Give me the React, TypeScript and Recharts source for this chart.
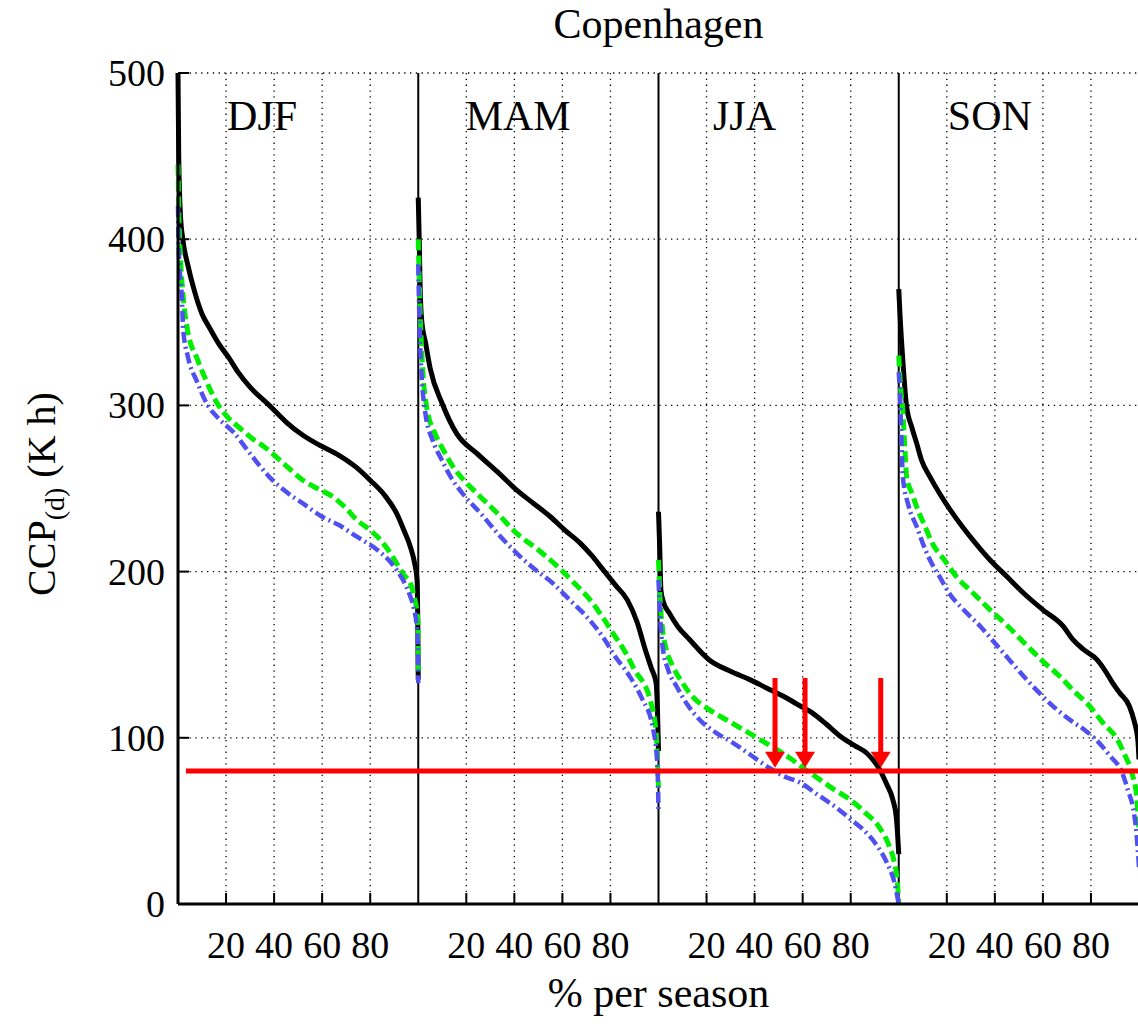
import React from "react";
import { LineChart, Line, XAxis, YAxis, CartesianGrid, ReferenceLine } from "recharts";

document.body.style.margin = "0";

const FONT = '"Liberation Serif", "DejaVu Serif", serif';

const SEASONS = ["DJF", "MAM", "JJA", "SON"];
// where the season name sits inside its panel (% of season)
const SEASON_LABEL_AT = [35, 41.6, 35.8, 37.9];

const X_TICKS = [20, 40, 60, 80, 120, 140, 160, 180, 220, 240, 260, 280, 320, 340, 360, 380];
const Y_TICKS = [0, 100, 200, 300, 400, 500];
const DIVIDERS = [100, 200, 300];

const THRESHOLD = 80;
// arrows in JJA where each curve crosses the threshold (% of season)
const ARROW_AT = [48.5, 61, 92.5];
const ARROW_TOP = 136;

// [% of season, CCP (K h)]
const DJF_BLACK: [number, number][] = [
  [0, 500], [0.3, 450], [1, 415], [2, 400], [4, 385], [7, 368], [10, 355], [13, 347], [17, 337],
  [21, 329], [25, 320], [30, 311], [38, 300], [45, 290], [52, 282], [59, 276], [67, 270], [74, 263],
  [80, 255], [86, 246], [91, 235], [94, 225], [96.7, 215], [98.5, 205], [99.5, 195], [99.8, 170], [100, 135],
];
const DJF_GREEN: [number, number][] = [
  [0, 445], [0.3, 420], [1, 390], [2, 368], [4, 345], [8, 328], [12, 314], [16, 302], [20, 294],
  [26, 286], [31, 280], [36, 275], [44, 265], [52, 255], [58, 250], [64.5, 245], [70, 238], [74.5, 231],
  [79, 226], [83, 221], [87, 214], [91, 205], [94, 198], [96.7, 193], [98, 187], [99.5, 175], [99.9, 169], [100, 140],
];
const DJF_BLUE: [number, number][] = [
  [0, 420], [0.3, 395], [0.8, 380], [1.5, 368], [2.2, 345], [4, 330], [8, 314], [12, 301], [17, 292],
  [23, 284], [30, 271], [38, 257], [45, 248], [52, 241], [60, 233], [67, 228], [74.5, 221], [83, 213],
  [87, 208], [91, 201], [94, 194], [96.7, 185], [98, 179], [99.5, 165], [99.9, 150], [100, 133],
];

const MAM_BLACK: [number, number][] = [
  [0, 425], [0.4, 400], [0.8, 370], [1.5, 350], [3, 338], [5, 322], [10, 301], [16, 283], [24.5, 271],
  [33, 260], [41, 249], [48, 241], [55, 233], [61, 225], [67.5, 217], [72, 210], [77, 201], [82, 192],
  [87, 183], [91, 170], [94.5, 153], [97, 142], [99, 133], [99.6, 115], [100, 92],
];
const MAM_GREEN: [number, number][] = [
  [0, 400], [0.7, 360], [1.5, 331], [3.5, 299], [7, 283], [10.5, 273], [14.5, 263], [19, 255],
  [24.5, 247], [33, 235], [41, 223], [50, 213], [58, 203], [65, 193], [71.5, 183], [77, 172], [81, 163],
  [86, 152], [90, 141], [96.5, 123], [99, 103], [99.6, 85], [100, 70],
];
const MAM_BLUE: [number, number][] = [
  [0, 385], [0.5, 350], [1, 329], [3, 295], [6, 279], [9.5, 268], [13.5, 257], [19, 246], [26, 235],
  [33, 223], [41, 211], [48, 202], [56, 193], [63, 183], [70, 173], [78.5, 157], [81, 151], [88, 137],
  [93, 124], [97.5, 107], [99.5, 85], [100, 57],
];

const JJA_BLACK: [number, number][] = [
  [0, 236], [0.5, 215], [1, 189], [2, 182], [4.5, 175], [8, 167], [13, 159], [21, 147], [30, 140],
  [38, 135], [45, 130], [52, 125], [58, 120], [64, 115], [70, 108], [76.5, 100], [82, 95], [86.5, 91],
  [92, 81], [95, 72], [97.5, 63], [99, 52], [99.6, 40], [100, 30],
];
const JJA_GREEN: [number, number][] = [
  [0, 207], [0.8, 180], [1.7, 165], [3.5, 152], [6, 143], [10, 133], [14, 125], [20, 118], [28, 111],
  [34, 106], [41, 100], [48, 94], [54.5, 88], [61, 81], [67, 75], [73, 69], [79.5, 63], [86, 55],
  [92, 46], [96, 35], [98, 26], [99.5, 12], [100, 0],
];
const JJA_BLUE: [number, number][] = [
  [0, 195], [0.8, 170], [1.7, 155], [4, 141], [7.5, 131], [12, 120], [17, 111], [24, 103], [31, 97],
  [38, 90], [46, 82], [52, 77], [59, 73], [66, 66], [74, 58], [80, 51], [85, 45], [90, 37], [95, 25],
  [98, 14], [100, 0],
];

const SON_BLACK: [number, number][] = [
  [0, 370], [0.5, 355], [1.7, 327], [3.2, 300], [5.4, 287], [7.5, 277], [9.5, 267], [13, 257],
  [17, 247], [21.5, 237], [26.5, 227], [32, 217], [38, 207], [45, 197], [52, 187], [60, 177],
  [68.5, 167], [72.5, 159], [77, 153], [82.5, 147], [86.5, 139], [89, 133], [92, 127], [96, 119],
  [98, 110], [99.5, 99], [100, 87],
];
const SON_GREEN: [number, number][] = [
  [0, 330], [0.8, 310], [1.7, 297], [2.5, 275], [3.3, 257], [5.5, 247], [8, 237], [11, 227], [14, 217],
  [19, 207], [24, 197], [31, 187], [38, 177], [45.5, 167], [53, 156], [60, 146], [67, 137], [73, 128],
  [79.5, 119], [85, 109], [91, 99], [94, 90], [97, 79], [99, 65], [99.5, 55], [100, 45],
];
const SON_BLUE: [number, number][] = [
  [0, 320], [0.5, 307], [1, 285], [1.7, 257], [4, 240], [7.5, 227], [10, 217], [13, 207], [17, 197],
  [21, 187], [27, 177], [34, 167], [40, 157], [46, 147], [52, 137], [58.5, 127], [65, 118], [72, 110],
  [78, 104], [82, 99], [88, 89], [93, 79], [95.5, 68], [97.5, 58], [99, 42], [100, 22],
];

const STYLES = {
  black: { stroke: "#000000", width: 5, dash: undefined as string | undefined },
  green: { stroke: "#00ee00", width: 5, dash: "11 5" },
  blue: { stroke: "#5050f0", width: 4.5, dash: "11 4 2 4" },
};

const CURVES: { season: number; style: keyof typeof STYLES; pts: [number, number][] }[] = [
  { season: 0, style: "black", pts: DJF_BLACK },
  { season: 1, style: "black", pts: MAM_BLACK },
  { season: 2, style: "black", pts: JJA_BLACK },
  { season: 3, style: "black", pts: SON_BLACK },
  { season: 0, style: "green", pts: DJF_GREEN },
  { season: 1, style: "green", pts: MAM_GREEN },
  { season: 2, style: "green", pts: JJA_GREEN },
  { season: 3, style: "green", pts: SON_GREEN },
  { season: 0, style: "blue", pts: DJF_BLUE },
  { season: 1, style: "blue", pts: MAM_BLUE },
  { season: 2, style: "blue", pts: JJA_BLUE },
  { season: 3, style: "blue", pts: SON_BLUE },
];

const PLOT_LEFT = 178;
const PLOT_TOP = 73;
const PLOT_W = 961;

function LeftTick({ x, y, payload }: any) {
  return (
    <g>
      <text x={x} y={y} dy={13} textAnchor="end" fontSize={38} fontFamily={FONT} fill="#000">
        {payload.value}
      </text>
      <line x1={x + 13} x2={x + 24} y1={y} y2={y} stroke="#000" strokeWidth={2} />
    </g>
  );
}

function RightTick({ x, y }: any) {
  return <line x1={x - 11} x2={x} y1={y} y2={y} stroke="#000" strokeWidth={2} />;
}

function BottomTick({ x, y, payload }: any) {
  return (
    <g>
      <text x={x} y={y + 54} textAnchor="middle" fontSize={38} fontFamily={FONT} fill="#000">
        {payload.value % 100}
      </text>
      <line x1={x} x2={x} y1={y} y2={y - 11} stroke="#000" strokeWidth={2} />
    </g>
  );
}

function TopTick({ x, y }: any) {
  return <line x1={x} x2={x} y1={y} y2={y + 11} stroke="#000" strokeWidth={2} />;
}

function Arrow(props: any) {
  const { x1, y1, x2, y2 } = props;
  const head = 16;
  return (
    <g>
      <line x1={x1} y1={y1} x2={x2} y2={y2 - head + 2} stroke="#ff0000" strokeWidth={5} />
      <polygon points={`${x2 - 10},${y2 - head} ${x2 + 10},${y2 - head} ${x2},${y2}`} fill="#ff0000" />
    </g>
  );
}

export default function App() {
  return (
    <div
      style={{
        position: "relative",
        width: 1138,
        height: 1024,
        overflow: "hidden",
        background: "#fff",
        fontFamily: FONT,
        color: "#000",
      }}
    >
      <LineChart width={1200} height={1024} margin={{ top: PLOT_TOP, right: 61, bottom: 0, left: 100 }}>
        <CartesianGrid stroke="#000" strokeWidth={1.3} strokeDasharray="1.3 4.5" />
        <XAxis
          type="number"
          dataKey="x"
          domain={[0, 400]}
          ticks={X_TICKS}
          interval={0}
          height={120}
          tickSize={0}
          tickMargin={0}
          tick={<BottomTick />}
          axisLine={{ stroke: "#000", strokeWidth: 3 }}
        />
        <XAxis
          xAxisId="top"
          orientation="top"
          type="number"
          dataKey="x"
          domain={[0, 400]}
          ticks={X_TICKS}
          interval={0}
          height={0}
          tickSize={0}
          tickMargin={0}
          tick={<TopTick />}
          axisLine={{ stroke: "#000", strokeWidth: 3 }}
        />
        <YAxis
          type="number"
          domain={[0, 500]}
          ticks={Y_TICKS}
          interval={0}
          width={78}
          tickSize={0}
          tickMargin={13}
          tick={<LeftTick />}
          axisLine={{ stroke: "#000", strokeWidth: 3 }}
        />
        <YAxis
          yAxisId="right"
          orientation="right"
          type="number"
          domain={[0, 500]}
          ticks={Y_TICKS}
          interval={0}
          width={0}
          tickSize={0}
          tickMargin={0}
          tick={<RightTick />}
          axisLine={{ stroke: "#000", strokeWidth: 3 }}
        />
        {DIVIDERS.map((d) => (
          <ReferenceLine key={d} x={d} stroke="#000" strokeWidth={2} />
        ))}
        {CURVES.map((c, i) => {
          const s = STYLES[c.style];
          return (
            <Line
              key={i}
              data={c.pts.map(([p, v]) => ({ x: c.season * 100 + p, y: v }))}
              dataKey="y"
              type="monotone"
              stroke={s.stroke}
              strokeWidth={s.width}
              strokeDasharray={s.dash}
              dot={false}
              activeDot={false}
              isAnimationActive={false}
            />
          );
        })}
        <ReferenceLine
          segment={[
            { x: 3.3, y: THRESHOLD },
            { x: 400, y: THRESHOLD },
          ]}
          stroke="#ff0000"
          strokeWidth={5}
        />
        {ARROW_AT.map((p) => (
          <ReferenceLine
            key={p}
            segment={[
              { x: 200 + p, y: ARROW_TOP },
              { x: 200 + p, y: THRESHOLD + 2 },
            ]}
            shape={Arrow}
          />
        ))}
      </LineChart>

      <div
        style={{
          position: "absolute",
          left: PLOT_LEFT + PLOT_W / 2,
          top: 3,
          transform: "translateX(-50%)",
          fontSize: 42,
          lineHeight: 1,
          whiteSpace: "nowrap",
        }}
      >
        Copenhagen
      </div>
      {SEASONS.map((s, i) => (
        <div
          key={s}
          style={{
            position: "absolute",
            left: PLOT_LEFT + ((i * 100 + SEASON_LABEL_AT[i]) / 400) * PLOT_W,
            top: 95,
            transform: "translateX(-50%)",
            fontSize: 42,
            lineHeight: 1,
            whiteSpace: "nowrap",
          }}
        >
          {s}
        </div>
      ))}
      <div
        style={{
          position: "absolute",
          left: PLOT_LEFT + PLOT_W / 2,
          top: 972,
          transform: "translateX(-50%)",
          fontSize: 42,
          lineHeight: 1,
          whiteSpace: "nowrap",
        }}
      >
        % per season
      </div>
      <div
        style={{
          position: "absolute",
          left: 45,
          top: 494,
          transform: "translate(-50%, -50%) rotate(-90deg)",
          fontSize: 40,
          lineHeight: 1,
          whiteSpace: "nowrap",
        }}
      >
        CCP<sub style={{ fontSize: 28 }}>(d)</sub> (K h)
      </div>
    </div>
  );
}
